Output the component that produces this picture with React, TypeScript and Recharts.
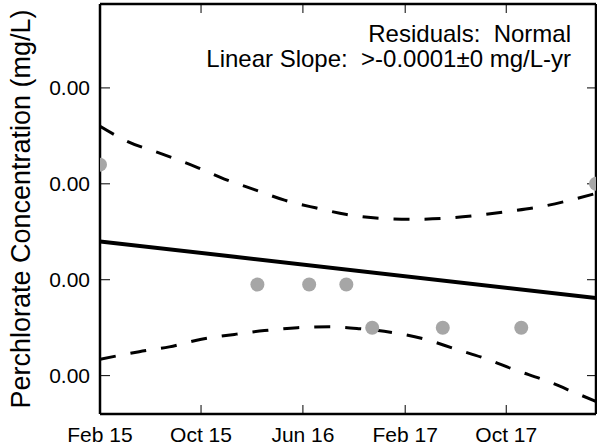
import React from 'react';
import {
  ComposedChart,
  Customized,
  Line,
  Scatter,
  XAxis,
  YAxis,
} from 'recharts';

// observed samples (date, concentration mg/L)
const sampleDates = [
  '2015-02-01',
  '2016-02-13',
  '2016-06-16',
  '2016-09-13',
  '2016-11-14',
  '2017-05-02',
  '2017-11-06',
  '2018-05-04',
];
const sampleValues = [
  0.0032, 0.00195, 0.00195, 0.00195, 0.0015, 0.0015, 0.0015, 0.003,
];

// fitted linear trend, start and end of record
const trendDates = ['2015-02-01', '2018-05-04'];
const trendValues = [0.0024, 0.00181];

// upper confidence band
const upperDates = [
  '2015-02-01', '2015-04-04', '2015-07-07', '2015-09-17', '2015-11-26',
  '2016-02-06', '2016-04-18', '2016-07-01', '2016-09-14', '2016-12-02',
  '2017-02-17', '2017-05-05', '2017-07-21', '2017-10-03', '2017-12-21',
  '2018-03-04', '2018-05-04',
];
const upperValues = [
  0.0036, 0.00345, 0.0033, 0.00318, 0.00305, 0.00294, 0.00283, 0.00275,
  0.00268, 0.00264, 0.00263, 0.00264, 0.00267, 0.00271, 0.00276, 0.00283,
  0.0029,
];

// lower confidence band
const lowerDates = [
  '2015-02-01', '2015-05-06', '2015-07-17', '2015-10-02', '2015-12-20',
  '2016-03-01', '2016-05-19', '2016-08-04', '2016-10-15', '2016-12-31',
  '2017-03-20', '2017-05-31', '2017-08-11', '2017-10-22', '2018-01-03',
  '2018-03-16', '2018-05-04',
];
const lowerValues = [
  0.00117, 0.00125, 0.0013, 0.00138, 0.00143, 0.00147, 0.0015, 0.00151,
  0.00149, 0.00145, 0.00138, 0.00128, 0.00118, 0.00106, 0.00095, 0.00082,
  0.00073,
];

const xTickDates = ['2015-02-01', '2015-10-01', '2016-06-01', '2017-02-01', '2017-10-01'];
const yTicks = [0.001, 0.002, 0.003, 0.004];
const xDomainDates = ['2015-02-01', '2018-05-04'];
const yDomain = [0.0006, 0.004875];

const MONTHS = ['Jan', 'Feb', 'Mar', 'Apr', 'May', 'Jun', 'Jul', 'Aug', 'Sep', 'Oct', 'Nov', 'Dec'];

const toRows = (dates: string[], values: number[]) =>
  dates.map((d, i) => ({ t: Date.parse(d), v: values[i] }));

const fmtDate = (t: number) => {
  const d = new Date(t);
  return `${MONTHS[d.getUTCMonth()]} ${String(d.getUTCFullYear()).slice(2)}`;
};

const FONT = '"Liberation Sans", Arial, Helvetica, sans-serif';
const axisLine = { stroke: '#000', strokeWidth: 2.5 };
const tickLine = { stroke: '#000', strokeWidth: 1 };
const tickStyle = { fontSize: 21, fill: '#000', fontFamily: FONT };

const Annotations = () => (
  <g fontFamily={FONT} fill="#000">
    <text
      transform="translate(30,209) rotate(-90)"
      textAnchor="middle"
      fontSize={27}
    >
      Perchlorate Concentration (mg/L)
    </text>
    <text x={571} y={42} textAnchor="end" fontSize={24} style={{ whiteSpace: 'pre' }}>
      {'Residuals:  Normal'}
    </text>
    <text x={571} y={67} textAnchor="end" fontSize={24} style={{ whiteSpace: 'pre' }}>
      {'Linear Slope:  >-0.0001±0 mg/L-yr'}
    </text>
  </g>
);

export default function App() {
  const points = toRows(sampleDates, sampleValues);
  const trend = toRows(trendDates, trendValues);
  const upper = toRows(upperDates, upperValues);
  const lower = toRows(lowerDates, lowerValues);
  const xDomain = xDomainDates.map((d) => Date.parse(d));
  const xTicks = xTickDates.map((d) => Date.parse(d));

  return (
    <div style={{ position: 'absolute', left: 0, top: 0, background: '#fff' }}>
      <ComposedChart
        width={597}
        height={448}
        margin={{ top: 0, right: 0, bottom: 0, left: 0 }}
      >
        <XAxis
          xAxisId={0}
          dataKey="t"
          type="number"
          domain={xDomain}
          ticks={xTicks}
          allowDataOverflow
          height={34}
          tickSize={-9}
          tickMargin={22}
          tickFormatter={fmtDate}
          tick={tickStyle}
          axisLine={axisLine}
          tickLine={tickLine}
        />
        <XAxis
          xAxisId="top"
          orientation="top"
          dataKey="t"
          type="number"
          domain={xDomain}
          ticks={xTicks}
          allowDataOverflow
          height={4}
          tickSize={-9}
          tickFormatter={() => ''}
          axisLine={axisLine}
          tickLine={tickLine}
        />
        <YAxis
          yAxisId={0}
          type="number"
          domain={yDomain}
          ticks={yTicks}
          allowDataOverflow
          width={100}
          tickSize={-10}
          tickMargin={20}
          tickFormatter={(v: number) => v.toFixed(2)}
          tick={tickStyle}
          axisLine={axisLine}
          tickLine={tickLine}
        />
        <YAxis
          yAxisId="right"
          orientation="right"
          type="number"
          domain={yDomain}
          ticks={yTicks}
          allowDataOverflow
          width={1}
          tickSize={-9}
          tickFormatter={() => ''}
          axisLine={axisLine}
          tickLine={tickLine}
        />

        <Scatter
          data={points}
          dataKey="v"
          isAnimationActive={false}
          shape={(p: any) => <circle cx={p.cx} cy={p.cy} r={7} fill="#a6a6a6" />}
        />
        <Line
          data={trend}
          dataKey="v"
          type="linear"
          stroke="#000"
          strokeWidth={4}
          dot={false}
          activeDot={false}
          isAnimationActive={false}
        />
        <Line
          data={upper}
          dataKey="v"
          type="monotone"
          stroke="#000"
          strokeWidth={3}
          strokeDasharray="16 15"
          dot={false}
          activeDot={false}
          isAnimationActive={false}
        />
        <Line
          data={lower}
          dataKey="v"
          type="monotone"
          stroke="#000"
          strokeWidth={3}
          strokeDasharray="16 15"
          dot={false}
          activeDot={false}
          isAnimationActive={false}
        />
        <Customized component={Annotations} />
      </ComposedChart>
    </div>
  );
}
